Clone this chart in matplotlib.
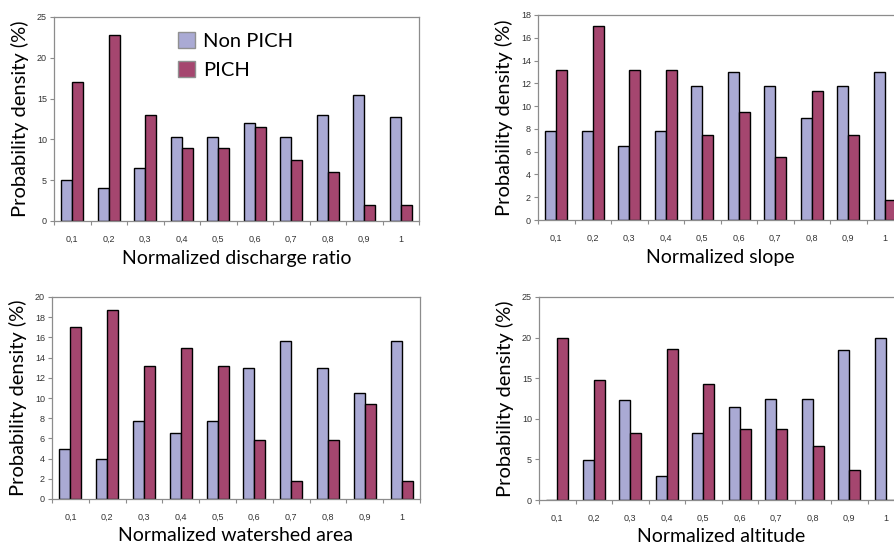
import numpy as np
import matplotlib
matplotlib.use('Agg')
from matplotlib import pyplot as plt

# categories (normalized classes)
classes = ['0,1', '0,2', '0,3', '0,4', '0,5', '0,6', '0,7', '0,8', '0,9', '1']

# probability density (%)
discharge_non = [5.0, 4.0, 6.5, 10.3, 10.3, 12.0, 10.3, 13.0, 15.5, 12.8]
discharge_pich = [17.0, 22.8, 13.0, 9.0, 9.0, 11.5, 7.5, 6.0, 2.0, 2.0]

slope_non = [7.8, 7.8, 6.5, 7.8, 11.8, 13.0, 11.8, 9.0, 11.8, 13.0]
slope_pich = [13.2, 17.0, 13.2, 13.2, 7.5, 9.5, 5.5, 11.3, 7.5, 1.8]

watershed_non = [5.0, 4.0, 7.7, 6.5, 7.7, 13.0, 15.6, 13.0, 10.5, 15.6]
watershed_pich = [17.0, 18.7, 13.2, 15.0, 13.2, 5.8, 1.8, 5.8, 9.4, 1.8]

altitude_non = [0.0, 4.9, 12.3, 3.0, 8.3, 11.4, 12.5, 12.5, 18.5, 20.0]
altitude_pich = [20.0, 14.8, 8.2, 18.6, 14.3, 8.8, 8.8, 6.7, 3.7, 0.0]

non_color = '#aaaad4'
pich_color = '#a5466f'
frame_color = '#8c8c8c'
label_font = ['Lato', 'DejaVu Sans']
tick_font = ['Liberation Sans', 'DejaVu Sans']

W, H = 894, 543
fig = plt.figure(figsize=(W / 100, H / 100), dpi=100)


def px_axes(left, top, right, bottom):
    return fig.add_axes([left / W, 1 - bottom / H, (right - left) / W, (bottom - top) / H])


def draw_panel(ax, non, pich, ymax, ystep, xlabel):
    x = np.arange(len(classes))
    w = 0.3
    ax.bar(x - w / 2, non, w, color=non_color, edgecolor='black', linewidth=1.0, label='Non PICH')
    ax.bar(x + w / 2, pich, w, color=pich_color, edgecolor='black', linewidth=1.0, label='PICH')
    ax.set_xlim(-0.5, len(classes) - 0.5)
    ax.set_ylim(0, ymax)
    ax.set_yticks(np.arange(0, ymax + 0.01, ystep))
    ax.set_xticks(x)
    ax.set_xticklabels(classes)
    ax.set_xticks(np.arange(-0.5, len(classes), 1), minor=True)
    ax.tick_params(axis='x', which='major', length=0, pad=10, labelsize=6.5, labelcolor='#333333')
    ax.tick_params(axis='x', which='minor', length=3, color=frame_color, width=0.8)
    ax.tick_params(axis='y', length=3, color=frame_color, width=0.8, pad=2, labelsize=6.5,
                   labelcolor='#333333')
    for lab in ax.get_xticklabels() + ax.get_yticklabels():
        lab.set_family(tick_font)
    for sp in ax.spines.values():
        sp.set_color(frame_color)
        sp.set_linewidth(0.9)
    ax.set_xlabel(xlabel, fontsize=14, family=label_font)
    ax.set_ylabel('Probability density (%)', fontsize=14.5, family=label_font)
    ax.xaxis.set_label_coords(0.5, -0.14)
    ax.yaxis.set_label_coords(-0.068, 0.5)


ax1 = px_axes(54, 17, 419, 221)
draw_panel(ax1, discharge_non, discharge_pich, 25, 5, 'Normalized discharge ratio')
ax1.legend(loc='upper left', bbox_to_anchor=(0.29, 1.015), frameon=False,
           prop={'family': label_font, 'size': 14.5}, handlelength=0.85, handleheight=0.85,
           handletextpad=0.4, labelspacing=0.55)
for h in ax1.get_legend().legend_handles:
    h.set_edgecolor('#909090')

ax2 = px_axes(538, 15, 903, 220)
draw_panel(ax2, slope_non, slope_pich, 18, 2, 'Normalized slope')

ax3 = px_axes(52, 297, 420, 499)
draw_panel(ax3, watershed_non, watershed_pich, 20, 2, 'Normalized watershed area')

ax4 = px_axes(539, 297, 904, 500)
draw_panel(ax4, altitude_non, altitude_pich, 25, 5, 'Normalized altitude')

fig.savefig('out.png', dpi=100)
